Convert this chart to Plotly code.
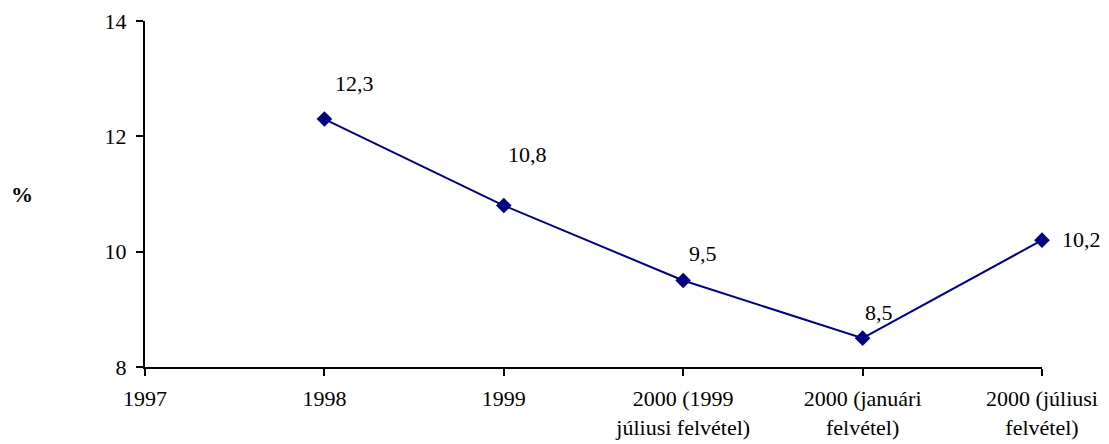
import plotly.graph_objects as go

categories = ["1997", "1998", "1999", "2000 (1999<br>júliusi felvétel)",
              "2000 (januári<br>felvétel)", "2000 (júliusi<br>felvétel)"]
point_positions = [1, 2, 3, 4, 5]
values = [12.3, 10.8, 9.5, 8.5, 10.2]
value_labels = ["12,3", "10,8", "9,5", "8,5", "10,2"]
label_shift_x = [30, 24, 20, 16, 39]
label_shift_y = [36, 51, 27, 26, 1]

FONT = "Liberation Serif"
FS = 22

fig = go.Figure()
fig.add_trace(go.Scatter(
    x=point_positions, y=values, mode="lines+markers",
    line=dict(color="#000080", width=2),
    marker=dict(symbol="diamond", size=12, color="#000080"),
    showlegend=False, cliponaxis=False, hoverinfo="skip",
))

for x, y, t, sx, sy in zip(point_positions, values, value_labels, label_shift_x, label_shift_y):
    fig.add_annotation(x=x, y=y, text=t, showarrow=False, xshift=sx, yshift=sy,
                       xanchor="center", yanchor="middle",
                       font=dict(family=FONT, size=FS, color="black"))

fig.add_annotation(xref="paper", yref="paper", x=-0.137, y=0.5, text="<b>%</b>",
                   xanchor="center", yanchor="middle",
                   showarrow=False, font=dict(family=FONT, size=FS, color="black"))

fig.update_layout(
    width=1109, height=444,
    margin=dict(l=137, r=75, t=13, b=85, autoexpand=False),
    paper_bgcolor="white", plot_bgcolor="white",
    font=dict(family=FONT, size=FS, color="black"),
    xaxis=dict(range=[0, 5], tickmode="array", tickvals=list(range(len(categories))),
               ticktext=categories, showgrid=False, zeroline=False, automargin=False,
               showline=True, linecolor="black", linewidth=2,
               ticks="outside", ticklen=7, tickwidth=1.5, tickcolor="black",
               ticklabelstandoff=4),
    yaxis=dict(range=[8, 14], tickvals=[8, 10, 12, 14], showgrid=False, zeroline=False,
               automargin=False,
               showline=True, linecolor="black", linewidth=2,
               ticks="outside", ticklen=7, tickwidth=1.5, tickcolor="black",
               ticklabelstandoff=5),
)

fig.write_html("out.html")
